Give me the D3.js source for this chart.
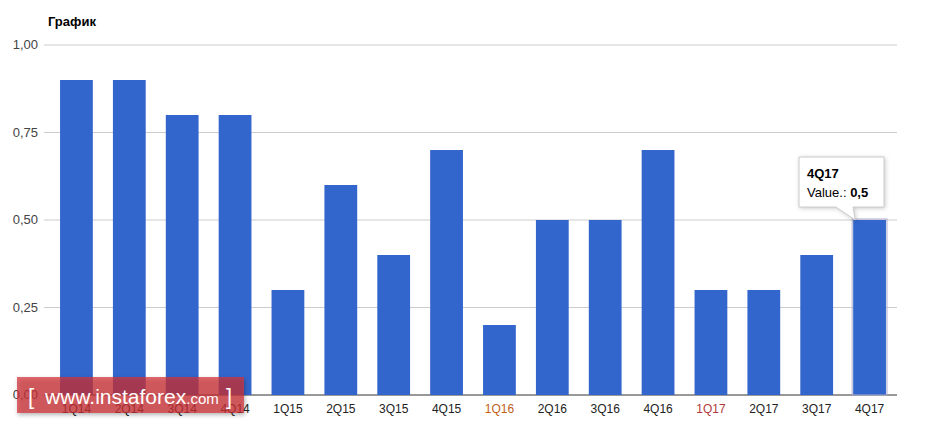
<!DOCTYPE html><html><head><meta charset="utf-8"><script src="https://cdn.jsdelivr.net/npm/d3@7"></script>
<style>body{margin:0;background:#fff}text{font-family:Arial,"Liberation Sans",sans-serif}</style></head><body><svg id="c" width="933" height="428"></svg><script>
const categories=["1Q14","2Q14","3Q14","4Q14","1Q15","2Q15","3Q15","4Q15","1Q16","2Q16","3Q16","4Q16","1Q17","2Q17","3Q17","4Q17"];
const values=[0.9,0.9,0.8,0.8,0.3,0.6,0.4,0.7,0.2,0.5,0.5,0.7,0.3,0.3,0.4,0.5];
const ticks=[0,0.25,0.5,0.75,1];
const svg=d3.select("#c");
const x=d3.scaleBand().domain(categories).range([50,896]).paddingInner(0.38).paddingOuter(0.19);
const y=d3.scaleLinear().domain([0,1]).range([395,45]);
const fmt=d=>d3.format(".2f")(d).replace(".",",");
svg.append("text").attr("x",48).attr("y",26).attr("font-size",13).attr("font-weight","bold").text("График");
ticks.forEach(t=>{svg.append("line").attr("x1",44).attr("x2",897).attr("y1",y(t)).attr("y2",y(t)).attr("stroke",t===0?"#333":"#ccc");
svg.append("text").attr("x",38).attr("y",y(t)+4).attr("text-anchor","end").attr("font-size",13).attr("fill","#444").text(fmt(t));});
svg.selectAll("rect.b").data(values).join("rect").attr("class","b").attr("x",(d,i)=>x(categories[i])).attr("width",x.bandwidth()).attr("y",d=>y(d)).attr("height",d=>y(0)-y(d)).attr("fill","#3366cc");
svg.selectAll("text.c").data(categories).join("text").attr("class","c").attr("x",d=>x(d)+x.bandwidth()/2).attr("y",413).attr("text-anchor","middle").attr("font-size",12).attr("fill",d=>d==="1Q16"?"#c0601a":d==="1Q17"?"#b03a3a":"#222").text(d=>d);
const lx=x("4Q17"),lv=values[15];
svg.append("rect").attr("x",lx-1).attr("y",y(lv)-1).attr("width",x.bandwidth()+2).attr("height",y(0)-y(lv)+1).attr("fill","none").attr("stroke","#aac").attr("stroke-width",1);
const g=svg.append("g");
g.append("path").attr("d",`M799,157 H884 V207 H853 L${lx+2},${y(lv)} L836,207 H799 Z`).attr("fill","#fff").attr("stroke","#ccc").style("filter","drop-shadow(1px 1px 2px rgba(0,0,0,0.2))");
g.append("text").attr("x",807).attr("y",178).attr("font-size",13).attr("font-weight","bold").text(categories[15]);
const t2=g.append("text").attr("x",807).attr("y",197).attr("font-size",13);
t2.append("tspan").text("Value.: ");t2.append("tspan").attr("font-weight","bold").text(String(lv).replace(".",","));
svg.append("rect").attr("x",17).attr("y",377).attr("width",227).attr("height",36).attr("fill","rgba(215,50,55,0.72)").style("filter","drop-shadow(1px 2px 2px rgba(0,0,0,0.4))");
svg.append("text").attr("x",28).attr("y",404).attr("font-size",22).attr("fill","#fff").text("[");
const w=svg.append("text").attr("x",45).attr("y",404).attr("fill","#fff");
w.append("tspan").attr("font-size",21).text("www.instaforex");w.append("tspan").attr("font-size",15).text(".com");
svg.append("text").attr("x",226).attr("y",404).attr("font-size",22).attr("fill","#fff").text("]");
</script></body></html>
